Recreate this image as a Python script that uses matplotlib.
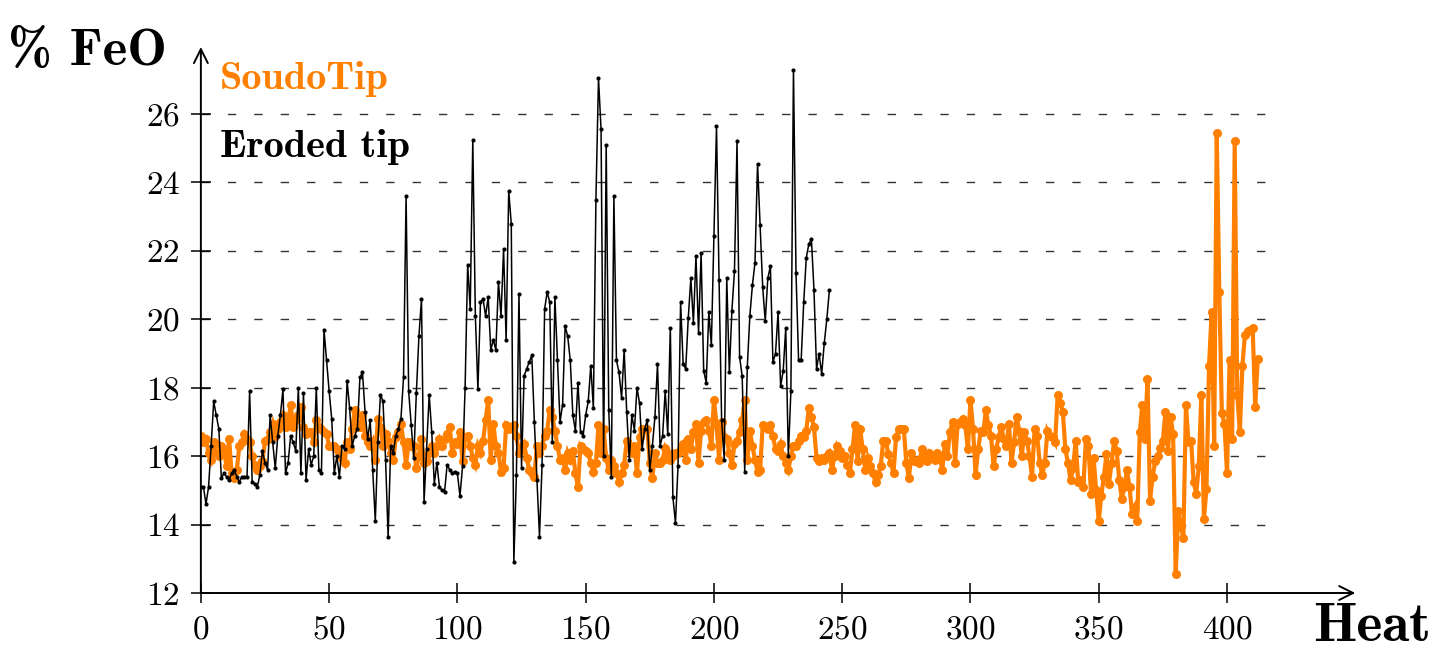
import numpy as np
import matplotlib
matplotlib.use("Agg")
import matplotlib.pyplot as plt

plt.rcParams['font.family'] = ['cmr10', 'DejaVu Serif']
plt.rcParams['axes.formatter.use_mathtext'] = True

# Eroded tip, %FeO per heat (heats 0..245)
eroded_feo = [
    15.1, 15.1, 14.6, 15.1, 16.3, 17.6, 17.2, 16.8, 15.35, 15.5,
    15.4, 15.3, 15.5, 15.6, 15.4, 15.25, 15.4, 15.4, 15.4, 17.9,
    15.25, 15.2, 15.1, 15.45, 16.15, 15.8, 15.6, 17.2, 16.4, 15.65,
    16.6, 17.2, 17.95, 15.5, 15.8, 16.6, 16.4, 16.15, 18.0, 15.5,
    17.85, 15.3, 16.2, 15.75, 16.0, 18.0, 15.6, 15.5, 19.7, 18.8,
    17.9, 17.1, 15.5, 16.0, 15.4, 16.3, 16.2, 18.2, 17.4, 16.3,
    16.6, 16.8, 18.3, 18.45, 17.3, 16.5, 17.05, 15.6, 14.1, 16.4,
    17.8, 17.6, 15.9, 13.64, 16.3, 16.1, 16.6, 16.8, 17.1, 18.3,
    23.6, 17.9, 16.9, 15.95, 17.85, 19.5, 20.6, 14.66, 16.2, 17.8,
    16.7, 15.2, 15.8, 15.1, 15.0, 14.96, 15.75, 15.6, 15.5, 15.55,
    15.5, 14.83, 15.7, 18.0, 21.6, 20.3, 25.25, 20.1, 17.95, 20.5,
    20.6, 20.1, 20.65, 19.1, 19.4, 19.1, 21.1, 20.1, 22.05, 19.4,
    23.75, 22.8, 12.9, 15.45, 20.75, 15.65, 18.35, 18.55, 18.75, 18.95,
    17.0, 15.3, 13.65, 15.75, 20.3, 20.8, 20.5, 16.4, 20.65, 18.8,
    17.0, 17.5, 19.8, 19.5, 18.8, 17.2, 16.75, 18.15, 16.7, 16.6,
    17.2, 17.6, 18.65, 17.4, 23.5, 27.05, 25.55, 16.0, 25.1, 17.35,
    15.4, 23.6, 18.8, 18.45, 17.7, 19.1, 17.3, 15.9, 17.2, 16.75,
    18.0, 17.55, 16.2, 16.8, 17.05, 15.6, 16.3, 17.15, 18.7, 16.3,
    16.6, 17.9, 16.65, 19.75, 14.8, 14.05, 15.7, 20.5, 18.7, 18.55,
    20.05, 21.2, 19.9, 21.85, 19.6, 21.95, 18.5, 18.15, 20.2, 19.25,
    22.45, 25.65, 21.15, 17.05, 15.9, 21.2, 18.45, 20.25, 21.4, 25.2,
    18.9, 18.35, 15.55, 18.6, 20.1, 21.0, 21.65, 24.55, 22.75, 20.95,
    19.95, 21.2, 21.55, 18.75, 19.0, 20.2, 18.05, 18.5, 19.75, 16.0,
    17.9, 27.3, 21.35, 18.8, 18.8, 20.5, 21.8, 22.2, 22.35, 20.85,
    18.55, 19.0, 18.4, 19.3, 20.0, 20.85,
]

# SoudoTip, %FeO per heat (heats 0..412)
soudotip_feo = [
    16.6, 16.4, 16.5, 16.1, 15.9, 16.4, 16.1, 16.0, 16.3, 16.2,
    15.7, 16.5, 15.5, 15.35, 15.6, 16.3, 16.4, 16.65, 16.5, 16.4,
    16.0, 15.75, 15.6, 15.7, 15.85, 16.45, 16.5, 16.7, 16.95, 16.6,
    16.8, 17.0, 17.2, 16.85, 17.0, 17.5, 16.85, 17.05, 17.2, 17.45,
    16.85, 16.65, 16.7, 16.7, 16.4, 17.05, 16.85, 16.8, 16.7, 16.65,
    16.3, 16.3, 16.3, 16.2, 16.1, 15.95, 15.8, 16.4, 16.2, 16.8,
    17.35, 16.95, 16.85, 17.2, 16.6, 16.4, 16.3, 16.45, 15.9, 17.1,
    16.85, 16.3, 16.65, 16.45, 16.1, 15.9, 16.55, 16.7, 16.95, 16.4,
    15.75, 16.4, 16.3, 16.3, 15.65, 16.0, 16.5, 15.8, 15.85, 16.1,
    16.3, 16.1, 16.3, 16.5, 16.3, 16.5, 16.65, 16.85, 16.1, 16.4,
    16.35, 16.7, 15.85, 16.55, 16.6, 16.3, 15.95, 15.75, 16.3, 16.1,
    16.45, 17.05, 17.65, 15.9, 16.95, 16.3, 16.1, 15.55, 15.65, 16.9,
    16.8, 16.85, 16.9, 16.6, 16.1, 16.2, 16.35, 15.95, 15.6, 15.5,
    15.4, 16.3, 16.1, 16.3, 16.6, 16.75, 17.35, 17.15, 16.75, 16.3,
    15.9, 15.95, 15.6, 16.1, 15.9, 16.15, 15.5, 15.1, 16.3, 16.2,
    16.15, 16.1, 15.8, 15.55, 15.8, 16.9, 16.1, 16.8, 15.95, 15.6,
    15.9, 15.7, 15.5, 15.25, 15.5, 15.75, 16.45, 16.25, 16.1, 16.3,
    15.5, 16.55, 16.8, 16.8, 16.8, 15.8, 15.35, 16.1, 15.8, 15.8,
    15.9, 16.25, 16.1, 15.9, 16.0, 16.1, 16.1, 16.2, 16.35, 15.9,
    16.5, 16.2, 16.7, 16.95, 15.8, 16.75, 17.0, 17.05, 16.75, 16.3,
    17.65, 16.95, 15.9, 17.0, 16.55, 16.5, 16.1, 15.75, 16.35, 16.45,
    16.7, 17.05, 17.65, 15.9, 16.75, 16.3, 15.9, 15.55, 15.6, 16.9,
    16.85, 16.8, 16.9, 16.6, 16.2, 16.15, 16.35, 16.0, 15.8, 15.6,
    16.0, 16.3, 16.3, 16.45, 16.6, 16.55, 16.75, 17.4, 17.15, 16.85,
    15.95, 15.85, 15.95, 15.9, 16.0, 16.1, 15.6, 16.0, 16.3, 16.15,
    15.95, 16.0, 15.75, 15.5, 16.2, 16.9, 15.85, 16.8, 16.2, 15.6,
    15.95, 15.7, 15.5, 15.25, 15.45, 15.7, 16.45, 16.45, 16.05, 15.8,
    15.5, 16.55, 16.8, 16.8, 16.8, 15.8, 15.35, 16.1, 15.85, 15.9,
    15.8, 16.2, 15.95, 15.85, 16.1, 16.0, 15.9, 16.1, 16.0, 15.6,
    16.35, 16.0, 16.7, 17.0, 15.8, 16.95, 17.0, 17.1, 16.9, 16.2,
    17.65, 16.8, 15.45, 16.2, 16.75, 16.7, 17.35, 16.9, 16.6, 15.7,
    16.2, 16.55, 16.85, 16.5, 16.3, 16.95, 15.8, 16.4, 17.15, 16.75,
    16.0, 16.7, 16.45, 16.0, 15.4, 16.8, 16.6, 15.8, 15.45, 15.8,
    16.75, 16.6, 16.55, 16.4, 17.8, 17.55, 17.3, 16.2, 15.8, 15.3,
    15.65, 16.45, 15.25, 15.3, 15.1, 16.5, 16.3, 14.9, 15.95, 15.0,
    14.1, 14.85, 15.4, 16.05, 15.2, 15.8, 16.45, 16.15, 15.3, 14.75,
    15.1, 15.6, 15.1, 14.3, 14.5, 14.1, 16.7, 17.5, 16.5, 18.25,
    14.7, 15.4, 15.85, 16.0, 16.25, 16.45, 17.3, 16.15, 17.15, 16.65,
    12.55, 14.4, 13.95, 13.6, 17.5, 16.4, 16.45, 15.25, 14.9, 15.7,
    17.8, 14.15, 15.05, 18.65, 20.2, 16.3, 25.45, 20.8, 17.25, 16.95,
    15.5, 18.8, 16.5, 25.2, 17.8, 16.7, 18.65, 19.55, 19.65, 19.7,
    19.75, 17.45, 18.85,
]

eroded_heat = list(range(len(eroded_feo)))
soudotip_heat = list(range(len(soudotip_feo)))

x_ticks = [0, 50, 100, 150, 200, 250, 300, 350, 400]
y_ticks = [12, 14, 16, 18, 20, 22, 24, 26]
grid_levels = [14, 16, 18, 20, 22, 24, 26]

ORANGE = '#ff8000'

fig = plt.figure(figsize=(14.43, 6.66), dpi=100)
ax = fig.add_axes([0.1392, 0.1096, 0.80, 0.8198])
ax.set_xlim(0, 450)
ax.set_ylim(12, 27.96)

for s in ax.spines.values():
    s.set_visible(False)

ax.hlines(grid_levels, 0, 416, colors='#333333', linewidth=1.0,
          linestyles=(0, (6, 13)), zorder=1)

ax.plot(soudotip_heat, soudotip_feo, color=ORANGE, lw=3.0, marker='o',
        markersize=6.5, markeredgewidth=0, zorder=3, solid_joinstyle='miter')
ax.plot(eroded_heat, eroded_feo, color='black', lw=1.1, marker='o',
        markersize=3, markeredgewidth=0, zorder=4)

ax.set_xticks(x_ticks)
ax.set_yticks(y_ticks)
ax.tick_params(axis='both', direction='inout', length=14, width=1.1,
               labelsize=24, color='black')
ax.tick_params(axis='x', pad=9)
ax.tick_params(axis='y', pad=8)

arrow = dict(arrowstyle='->', lw=1.4, color='black', shrinkA=0, shrinkB=0,
             mutation_scale=25)
ax.annotate('', xy=(1, 0), xytext=(0, 0), xycoords='axes fraction',
            textcoords='axes fraction', arrowprops=arrow, annotation_clip=False)
ax.annotate('', xy=(0, 1), xytext=(0, 0), xycoords='axes fraction',
            textcoords='axes fraction', arrowprops=arrow, annotation_clip=False)

fig.text(0.0055, 0.9024, '% FeO', fontsize=38, fontfamily='cmb10',
         ha='left', va='baseline')
fig.text(0.9099, 0.0375, 'Heat', fontsize=40, fontfamily='cmb10',
         ha='left', va='baseline')
fig.text(0.1525, 0.8664, 'SoudoTip', fontsize=29, fontfamily='cmb10',
         color=ORANGE, ha='left', va='baseline')
fig.text(0.1525, 0.7643, 'Eroded tip', fontsize=29, fontfamily='cmb10',
         color='black', ha='left', va='baseline')

fig.savefig('out.png', dpi=100)
